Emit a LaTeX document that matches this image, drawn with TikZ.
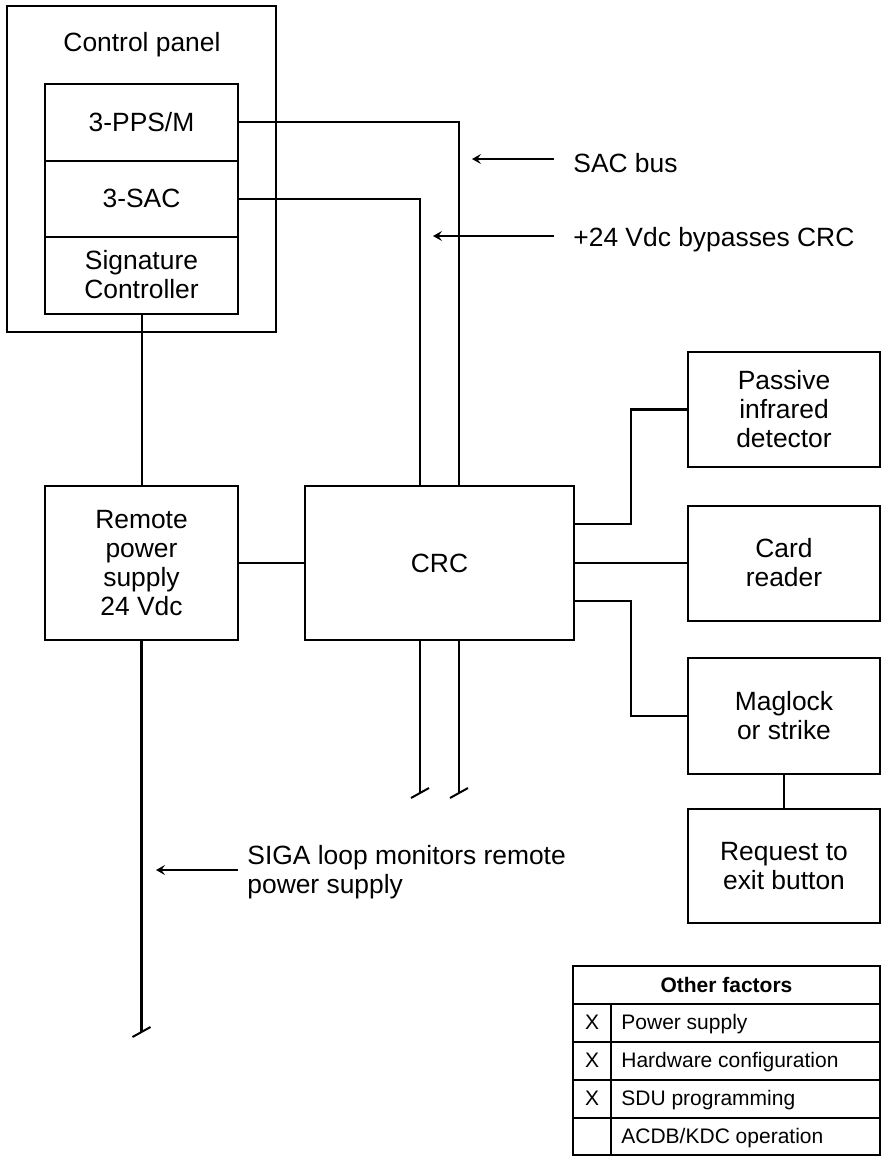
\documentclass[tikz,border=0pt]{standalone}
\usepackage{fontspec}
\setmainfont{Liberation Sans}
\usetikzlibrary{arrows.meta,calc}
\begin{document}
\begin{tikzpicture}[x=0.5pt,y=-0.5pt,
  box/.style={draw, line width=1pt, rectangle, inner sep=0pt, align=center,
    font=\fontsize{13.2}{14.5}\selectfont},
  txt/.style={inner sep=0pt, align=center, font=\fontsize{13.2}{14.5}\selectfont},
  lbl/.style={inner sep=0pt, align=left, anchor=west, font=\fontsize{13.2}{14.5}\selectfont},
  wire/.style={line width=1pt},
  bus/.style={line width=1.3pt, line join=miter},
  callout/.style={line width=1pt, -{Stealth[length=4.5pt,width=5pt,inset=1.8pt]}},
  tick/.style={line width=1pt},
  tcell/.style={inner sep=0pt, anchor=base, font=\fontsize{10.5}{12}\selectfont},
  tline/.style={line width=1pt}
]
\useasboundingbox (0,0) rectangle (882,1157);

% control panel
\node[box, minimum width=134.5pt, minimum height=163pt] (cp) at (141.5,169) {};
\node[txt] (cptext) at (142,45) {Control panel};
\node[box, minimum width=96.5pt, minimum height=38.5pt] (pps) at (141.5,122) {3-PPS/M};
\node[box, minimum width=96.5pt, minimum height=38pt] (sac) at (141.5,198.5) {3-SAC};
\node[box, minimum width=96.5pt, minimum height=38.5pt] (sig) at (141.5,275) {Signature\\Controller};

% main boxes
\node[box, minimum width=96.5pt, minimum height=77pt] (rps) at (141.5,563) {Remote\\power\\supply\\24 Vdc};
\node[box, minimum width=134.5pt, minimum height=77pt] (crc) at (439.5,563) {CRC};
\node[box, minimum width=96pt, minimum height=57.5pt] (pir) at (784,409.5) {Passive\\infrared\\detector};
\node[box, minimum width=96pt, minimum height=57.5pt] (card) at (784,563) {Card\\reader};
\node[box, minimum width=96pt, minimum height=58pt] (mag) at (784,716) {Maglock\\or strike};
\node[box, minimum width=96pt, minimum height=57pt] (req) at (784,866) {Request to\\exit button};

% bus coordinates
\coordinate (busA) at (459,486);
\coordinate (busB) at (420,486);
\coordinate (busAend) at (459,793);
\coordinate (busBend) at (420,793);
\coordinate (busAbot) at (459,640);
\coordinate (busBbot) at (420,640);
\coordinate (sigaend) at (141.5,1032);

% connectors
\draw[wire] (pps.east) -| (busA);
\draw[wire] (sac.east) -| (busB);
\draw[wire] (sig.south) -- (rps.north);
\draw[bus] (rps.east) -- (crc.west);
\draw[bus] (busAbot) -- (busAend);
\draw[bus] (busBbot) -- (busBend);
\draw[bus] (rps.south) -- (sigaend);
\draw[tick] ($(busAend)+(-9,5)$) -- ($(busAend)+(9,-5)$);
\draw[tick] ($(busBend)+(-9,5)$) -- ($(busBend)+(9,-5)$);
\draw[tick] ($(sigaend)+(-9,5)$) -- ($(sigaend)+(9,-5)$);

\coordinate (c1) at (574,524);
\coordinate (c3) at (574,601);
\draw[bus] (c1) -- (631,524) |- (pir.west);
\draw[bus] (crc.east) -- (card.west);
\draw[bus] (c3) -- (631,601) |- (mag.west);
\draw[wire] (mag.south) -- (req.north);

% callouts
\node[lbl] (l1) at (573,163) {SAC bus};
\node[lbl] (l2) at (573,240) {+24 Vdc bypasses CRC};
\node[lbl] (l3) at (247,872) {SIGA loop monitors remote\\power supply};
\coordinate (a1) at (472,159);
\coordinate (a2) at (433,236);
\coordinate (a3) at (156,870);
\draw[callout] (554,159) -- (a1);
\draw[callout] (554,236) -- (a2);
\draw[callout] (238,870) -- (a3);

% table
\draw[tline] (573,966) rectangle (880,1155);
\foreach \yy in {1004,1042,1080,1118} \draw[tline] (573,\yy) -- (880,\yy);
\draw[tline] (611,1004) -- (611,1155);
\node[tcell, font=\fontsize{10.5}{12}\selectfont\bfseries] (th) at (726.5,992) {Other factors};
\node[tcell] (x1) at (592,1029) {X};
\node[tcell] (x2) at (592,1067) {X};
\node[tcell] (x3) at (592,1105) {X};
\node[tcell, anchor=base west] (r1) at (621,1029) {Power supply};
\node[tcell, anchor=base west] (r2) at (621,1067) {Hardware configuration};
\node[tcell, anchor=base west] (r3) at (621,1105) {SDU programming};
\node[tcell, anchor=base west] (r4) at (621,1143) {ACDB/KDC operation};
\end{tikzpicture}
\end{document}
